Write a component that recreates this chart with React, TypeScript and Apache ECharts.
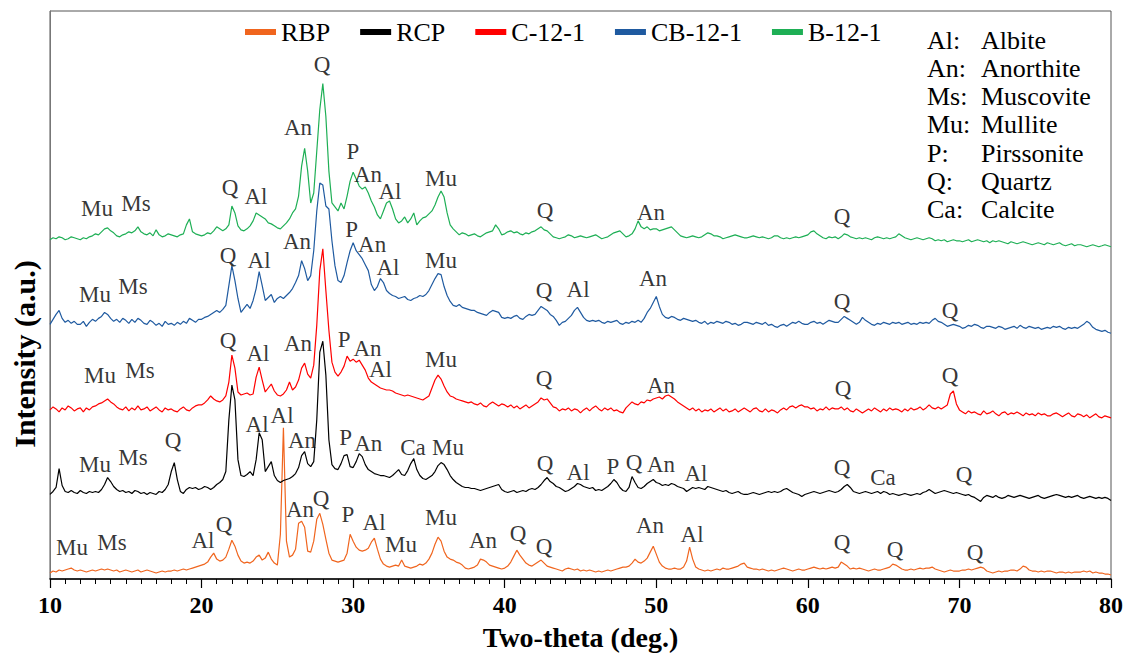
import React, { useEffect, useRef } from "react";
import * as echarts from "echarts";

const FONT = "Liberation Serif";

const seriesNames = ["RBP", "RCP", "C-12-1", "CB-12-1", "B-12-1"];
const seriesColors = ["#F0651E", "#000000", "#FF0000", "#1F5AA0", "#1EAF55"];

const xTicks = [10, 20, 30, 40, 50, 60, 70, 80];

// Two-theta sampling: 10.0 to 80.0 in 0.2 degree steps (351 points)
const thetaStart = 10;
const thetaStep = 0.2;

const rbp = [
  6, 8, 7, 9, 8, 9, 10, 11, 9, 8,
  9, 8, 7, 8, 9, 8, 9, 10, 9, 10,
  9, 8, 9, 7, 8, 9, 8, 7, 8, 9,
  7, 8, 9, 8, 7, 6, 7, 8, 7, 8,
  8, 9, 8, 9, 10, 9, 10, 11, 12, 13,
  14, 15, 17, 22, 26, 20, 18, 19, 22, 30,
  39, 33, 24, 18, 16, 17, 16, 18, 22, 24,
  19, 21, 27, 20, 16, 14, 45, 152, 38, 22,
  24, 30, 56, 58, 52, 28, 27, 38, 60, 66,
  55, 40, 26, 19, 18, 17, 18, 19, 26, 45,
  38, 32, 29, 28, 29, 31, 37, 41, 30, 20,
  15, 13, 12, 13, 14, 13, 19, 13, 12, 11,
  12, 13, 15, 14, 16, 20, 26, 35, 42, 38,
  28, 22, 20, 19, 17, 16, 14, 11, 10, 11,
  12, 14, 20, 19, 17, 14, 13, 12, 11, 10,
  11, 13, 17, 23, 29, 24, 20, 16, 14, 13,
  15, 17, 19, 16, 13, 12, 11, 10, 9, 8,
  10, 11, 10, 9, 10, 8, 9, 8, 9, 8,
  7, 8, 7, 8, 9, 8, 9, 10, 11, 12,
  12, 13, 16, 20, 17, 16, 18, 21, 27, 33,
  25, 17, 13, 11, 10, 10, 11, 10, 10, 12,
  18, 32, 20, 12, 10, 9, 8, 9, 8, 9,
  10, 9, 11, 10, 10, 11, 12, 13, 15, 16,
  12, 11, 10, 10, 9, 10, 9, 8, 9, 8,
  9, 10, 11, 10, 9, 8, 9, 10, 9, 9,
  10, 11, 12, 11, 10, 11, 10, 11, 12, 11,
  12, 17, 15, 13, 10, 11, 10, 11, 10, 9,
  8, 9, 10, 9, 9, 10, 11, 12, 15, 14,
  12, 10, 9, 9, 10, 9, 10, 11, 10, 11,
  11, 12, 10, 9, 8, 7, 8, 9, 8, 8,
  8, 9, 9, 10, 9, 10, 11, 12, 11, 8,
  7, 6, 7, 8, 7, 8, 8, 9, 9, 8,
  10, 13, 12, 9, 8, 8, 7, 8, 7, 8,
  8, 7, 6, 7, 7, 6, 7, 6, 7, 7,
  7, 8, 7, 8, 6, 7, 6, 6, 5, 5,
  4,
];

const rcp = [
  85, 88, 92, 111, 94, 88, 87, 89, 87, 86,
  89, 87, 86, 88, 87, 88, 87, 90, 95, 102,
  98, 93, 90, 88, 89, 87, 88, 86, 89, 88,
  86, 87, 85, 87, 86, 85, 88, 87, 90, 95,
  108, 117, 100, 88, 86, 90, 92, 91, 92, 90,
  91, 93, 92, 90, 92, 95, 97, 100, 108, 160,
  195, 180, 120, 104, 103, 105, 108, 104, 120, 147,
  140, 108, 113, 118, 104, 99, 97, 99, 100, 101,
  103, 106, 112, 124, 128, 116, 113, 118, 160, 228,
  239, 205, 140, 115, 111, 110, 116, 124, 125, 113,
  112, 118, 126, 123, 115, 110, 108, 106, 105, 104,
  104, 103, 102, 104, 107, 110, 105, 104, 109, 116,
  121, 110, 104, 101, 100, 102, 104, 108, 114, 117,
  115, 110, 104, 100, 97, 95, 93, 92, 92, 91,
  91, 90, 89, 90, 91, 92, 93, 94, 95, 90,
  88, 87, 88, 89, 87, 88, 89, 88, 90, 91,
  90, 92, 95, 99, 102, 98, 96, 93, 92, 90,
  88, 89, 91, 93, 96, 95, 93, 92, 91, 92,
  89, 90, 89, 91, 93, 96, 100, 97, 92, 89,
  88, 92, 103, 97, 92, 91, 93, 96, 98, 100,
  97, 96, 94, 95, 94, 96, 95, 93, 92, 91,
  88, 90, 92, 91, 92, 91, 90, 93, 92, 91,
  90, 89, 88, 89, 87, 86, 87, 88, 86, 85,
  85, 86, 87, 86, 85, 86, 87, 88, 87, 88,
  87, 88, 90, 91, 89, 87, 86, 85, 83, 85,
  86, 87, 88, 87, 86, 87, 88, 89, 88, 87,
  88, 90, 93, 95, 92, 88, 87, 86, 87, 88,
  87, 86, 87, 88, 86, 88, 87, 85, 86, 85,
  84, 85, 86, 85, 84, 85, 86, 85, 87, 88,
  90, 88, 86, 87, 88, 89, 88, 87, 86, 87,
  86, 85, 84, 85, 83, 82, 80, 78, 82, 84,
  83, 82, 84, 82, 81, 82, 84, 83, 82, 83,
  84, 83, 82, 81, 82, 83, 84, 82, 81, 82,
  83, 84, 85, 84, 83, 82, 83, 82, 83, 84,
  82, 81, 82, 83, 82, 81, 82, 81, 82, 81,
  79,
];

const c12 = [
  170, 173, 171, 168, 172, 170, 174, 172, 169, 171,
  172, 168, 172, 170, 173, 174, 176, 177, 179, 181,
  178, 176, 173, 171, 170, 173, 169, 172, 170, 174,
  170, 171, 173, 169, 171, 173, 170, 168, 172, 170,
  171, 169, 168, 171, 173, 170, 169, 172, 174, 175,
  175, 177, 180, 184, 181, 179, 178, 180, 184, 198,
  225, 212, 188, 185, 186, 187, 185, 186, 203, 213,
  200, 188, 192, 196, 189, 185, 184, 186, 190, 198,
  190, 193, 200, 212, 217, 206, 202, 215, 255, 310,
  332, 290, 250, 218, 208, 204, 208, 214, 224, 219,
  221, 218, 220, 215, 210, 202, 198, 196, 194, 192,
  191, 190, 190, 189, 187, 186, 185, 184, 185, 184,
  183, 182, 181, 180, 182, 184, 192, 200, 205, 201,
  194, 188, 184, 183, 181, 180, 179, 178, 177, 178,
  176, 175, 177, 174, 173, 176, 178, 176, 174, 176,
  175, 173, 175, 172, 174, 171, 173, 175, 172, 174,
  176, 178, 182, 180, 181, 177, 173, 172, 169, 171,
  170, 172, 169, 171, 170, 167, 170, 172, 169, 172,
  174, 171, 169, 172, 170, 172, 169, 170, 168, 167,
  172, 175, 178, 176, 175, 178, 177, 180, 179, 181,
  182, 183, 181, 184, 185, 183, 181, 178, 176, 174,
  172, 170, 172, 169, 171, 168, 170, 169, 171, 168,
  170, 172, 169, 171, 168, 169, 171, 168, 170, 172,
  170, 168, 171, 172, 169, 168, 171, 168, 170, 169,
  167, 170, 172, 170, 173, 174, 172, 174, 175, 173,
  173, 171, 172, 169, 171, 170, 173, 170, 172, 171,
  171, 173, 170, 172, 169, 168, 171, 169, 167, 169,
  171, 169, 172, 170, 168, 171, 169, 172, 170, 171,
  170, 168, 171, 169, 172, 170, 171, 173, 170, 172,
  175, 172, 171, 173, 171, 173, 175, 186, 189, 176,
  170, 168, 166, 169, 167, 168, 166, 165, 169, 166,
  167, 169, 166, 164, 167, 168, 165, 167, 166, 168,
  166, 164, 167, 165, 166, 164, 167, 165, 166, 164,
  164, 166, 167, 165, 163, 165, 167, 164, 163, 166,
  165, 163, 165, 162, 164, 166, 163, 162, 164, 163,
  162,
];

const cb12 = [
  256, 261, 266, 270, 262, 258, 260, 257, 259, 256,
  256, 259, 254, 258, 261, 259, 262, 264, 268, 266,
  262, 259, 261, 258, 262, 260, 257, 261, 258, 262,
  260, 257, 256, 260, 258, 255, 257, 254, 259, 256,
  257, 255, 258, 256, 259, 257, 262, 260, 258, 261,
  261, 263, 264, 266, 268, 270, 268, 271, 275, 295,
  315, 300, 282, 268, 272, 276, 272, 280, 292, 309,
  295, 280, 283, 286, 278, 282, 284, 282, 285, 288,
  292, 298, 305, 320, 312, 300, 305, 330, 370, 398,
  396, 375, 372, 340, 315, 300, 298, 305, 318, 330,
  338, 330, 326, 322, 316, 310, 296, 290, 294, 302,
  298, 290, 287, 285, 284, 282, 283, 284, 281, 280,
  282, 283, 285, 284, 286, 290, 296, 302, 307, 306,
  294, 285, 279, 275, 274, 276, 273, 272, 271, 270,
  270, 268, 267, 266, 265, 268, 270, 269, 268, 263,
  262, 263, 262, 264, 265, 262, 261, 264, 266, 265,
  266, 270, 274, 272, 270, 266, 264, 260, 255, 258,
  259, 262, 265, 270, 273, 268, 263, 260, 259, 260,
  259, 260, 258, 257, 259, 258, 259, 260, 257, 256,
  258, 257, 259, 258, 260, 258, 262, 268, 272, 278,
  284, 274, 266, 263, 262, 264, 263, 261, 260, 262,
  261, 260, 259, 260, 258, 257, 259, 256, 258, 257,
  259, 258, 257, 259, 258, 256, 257, 255, 256, 258,
  258, 257, 256, 258, 257, 256, 258, 255, 256, 254,
  253, 255, 256, 254, 256, 258, 257, 259, 257, 256,
  256, 258, 259, 257, 258, 256, 258, 260, 259, 258,
  258, 261, 264, 262, 260, 258, 256, 258, 263, 260,
  258, 256, 255, 257, 256, 258, 257, 256, 258, 257,
  258, 256, 257, 258, 256, 257, 256, 258, 257, 258,
  257, 260, 262, 259, 258, 256, 254, 255, 256, 255,
  254, 252, 253, 255, 254, 256, 255, 253, 252, 254,
  254, 253, 252, 254, 253, 251, 252, 253, 254, 252,
  255, 253, 252, 254, 253, 252, 253, 251, 252, 253,
  252, 254, 253, 254, 252, 251, 253, 252, 253, 252,
  254, 256, 259, 257, 253, 251, 250, 249, 250, 248,
  247,
];

const b12 = [
  341, 343, 342, 344, 343, 341, 342, 344, 343, 342,
  341, 343, 342, 344, 345, 347, 346, 349, 352, 353,
  350, 348, 345, 344, 346, 347, 349, 348, 350, 354,
  349, 347, 346, 348, 345, 351, 346, 344, 345, 347,
  346, 345, 344, 346, 347, 356, 362, 349, 347, 346,
  345, 346, 348, 347, 350, 354, 352, 350, 352, 356,
  375, 368, 355, 351, 350, 352, 355, 360, 368, 366,
  364, 362, 358, 357, 355, 353, 352, 355, 358, 362,
  368, 372, 385, 415, 433, 410, 378, 388, 430, 472,
  498, 465, 410, 378, 374, 370, 378, 372, 385, 400,
  409, 402, 395, 392, 394, 388, 380, 374, 366, 362,
  370, 378, 380, 372, 362, 358, 360, 364, 358, 362,
  368, 356, 360, 363, 364, 367, 370, 376, 384, 390,
  384, 368, 356, 352, 349, 346, 348, 347, 345, 346,
  347, 345, 344, 346, 348, 349, 350, 356, 352, 346,
  347, 349, 350, 348, 349, 347, 346, 348, 347, 349,
  350, 352, 354, 351, 350, 347, 344, 343, 342, 343,
  344, 346, 345, 343, 344, 345, 344, 343, 344, 345,
  346, 344, 342, 343, 344, 346, 348, 349, 350, 347,
  344, 345, 347, 352, 360, 354, 352, 354, 351, 352,
  352, 350, 351, 352, 353, 354, 351, 348, 345, 344,
  343, 344, 345, 344, 343, 344, 346, 348, 347, 345,
  345, 344, 342, 343, 344, 345, 346, 345, 344, 343,
  343, 344, 345, 344, 343, 344, 343, 342, 343, 345,
  345, 343, 342, 343, 342, 343, 344, 343, 344, 345,
  346, 349, 350, 347, 345, 343, 342, 344, 343, 344,
  342, 344, 347, 346, 344, 343, 342, 343, 342, 343,
  342, 341, 343, 344, 343, 342, 343, 342, 343, 344,
  347, 345, 343, 342, 341, 342, 343, 342, 341, 342,
  343, 342, 340, 341, 340, 341, 339, 340, 341, 340,
  340, 339, 340, 341, 339, 340, 341, 340, 339, 340,
  338, 340, 339, 340, 339, 338, 337, 339, 338, 337,
  338, 339, 338, 337, 336, 337, 338, 337, 336, 338,
  337, 336, 337, 338, 336, 335, 336, 337, 335, 336,
  336, 335, 334, 335, 336, 335, 334, 335, 336, 335,
  334,
];

// Peak labels: [two-theta, intensity, phase]
const rbpLabels: [number, number, string][] = [
  [11.45, 32, "Mu"], [14.09, 37, "Ms"], [20.09, 39, "Al"], [21.48, 55, "Q"], [25.31, 164, "Al"], [26.49, 70, "An"], [27.88, 81, "Q"], [29.66, 65, "P"], [31.38, 57, "Al"], [33.16, 35, "Mu"], [35.8, 62, "Mu"], [38.57, 39, "An"], [40.88, 46, "Q"], [42.59, 33, "Q"], [49.59, 54, "An"], [52.36, 45, "Al"], [62.25, 37, "Q"], [65.75, 30, "Q"], [71.03, 27, "Q"],
];
const rcpLabels: [number, number, string][] = [
  [12.97, 115, "Mu"], [15.48, 122, "Ms"], [18.12, 139, "Q"], [23.66, 155, "Al"], [26.63, 139, "An"], [29.5, 142, "P"], [31.0, 136, "An"], [33.95, 132, "Ca"], [36.26, 132, "Mu"], [42.66, 116, "Q"], [44.84, 107, "Al"], [47.14, 113, "P"], [48.53, 117, "Q"], [50.31, 115, "An"], [52.62, 106, "Al"], [62.25, 112, "Q"], [64.96, 102, "Ca"], [70.3, 105, "Q"],
];
const c12Labels: [number, number, string][] = [
  [13.3, 205, "Mu"], [15.94, 210, "Ms"], [21.74, 240, "Q"], [23.72, 227, "Al"], [26.36, 237, "An"], [29.4, 241, "P"], [30.95, 232, "An"], [31.8, 211, "Al"], [35.8, 221, "Mu"], [42.59, 202, "Q"], [50.31, 195, "An"], [62.32, 192, "Q"], [69.38, 205, "Q"],
];
const cb12Labels: [number, number, string][] = [
  [12.97, 286, "Mu"], [15.48, 294, "Ms"], [21.74, 325, "Q"], [23.79, 320, "Al"], [26.3, 339, "An"], [29.9, 351, "P"], [31.25, 336, "An"], [32.3, 313, "Al"], [35.8, 320, "Mu"], [42.59, 290, "Q"], [44.84, 291, "Al"], [49.78, 302, "An"], [62.25, 279, "Q"], [69.38, 270, "Q"],
];
const b12Labels: [number, number, string][] = [
  [13.1, 372, "Mu"], [15.67, 377, "Ms"], [21.88, 394, "Q"], [23.59, 385, "Al"], [26.36, 454, "An"], [27.95, 517, "Q"], [29.99, 430, "P"], [30.98, 407, "An"], [32.43, 390, "Al"], [35.8, 403, "Mu"], [42.66, 370, "Q"], [49.65, 368, "An"], [62.25, 364, "Q"],
];

const phaseAbbr = ["Al:", "An:", "Ms:", "Mu:", "P:", "Q:", "Ca:"];
const phaseNames = ["Albite", "Anorthite", "Muscovite", "Mullite", "Pirssonite", "Quartz", "Calcite"];

export default function App() {
  const ref = useRef<HTMLDivElement>(null);
  useEffect(() => {
    if (!ref.current) return;
    const chart = echarts.init(ref.current, undefined, { renderer: "svg" });
    const datasets = [rbp, rcp, c12, cb12, b12];
    const allLabels = [...rbpLabels, ...rcpLabels, ...c12Labels, ...cb12Labels, ...b12Labels];

    const lineSeries = datasets.map((d, i) => ({
      name: seriesNames[i],
      type: "line",
      data: d.map((v, k) => [+(thetaStart + k * thetaStep).toFixed(1), v]),
      showSymbol: false,
      symbol: "none",
      lineStyle: { color: seriesColors[i], width: 1.2 },
      itemStyle: { color: seriesColors[i] },
      silent: true,
      z: 2 + i,
    }));

    const extraGraphic: any[] = [];
    phaseAbbr.forEach((a, i) => {
      extraGraphic.push({
        type: "text",
        x: 927,
        y: 40 + i * 28.3,
        style: { text: a, font: "26px Liberation Serif", fill: "#000", textVerticalAlign: "middle" },
      });
      extraGraphic.push({
        type: "text",
        x: 981,
        y: 40 + i * 28.3,
        style: { text: phaseNames[i], font: "26px Liberation Serif", fill: "#000", textVerticalAlign: "middle" },
      });
    });
    extraGraphic.push({
      type: "text",
      x: 24,
      y: 354,
      rotation: Math.PI / 2,
      style: {
        text: "Intensity (a.u.)",
        font: "bold 30px Liberation Serif",
        fill: "#000",
        textAlign: "center",
        textVerticalAlign: "middle",
      },
    });

    chart.setOption({
      animation: false,
      textStyle: { fontFamily: FONT },
      grid: { left: 50, right: 16, top: 11, bottom: 74, show: true, borderColor: "#555", borderWidth: 1 },
      legend: {
        data: seriesNames,
        left: 245,
        top: 19,
        padding: 0,
        icon: "rect",
        itemWidth: 31,
        itemHeight: 6,
        itemGap: 30,
        textStyle: { fontFamily: FONT, fontSize: 26, color: "#000" },
      },
      xAxis: {
        type: "value",
        min: xTicks[0],
        max: xTicks[xTicks.length - 1],
        interval: 10,
        axisLine: { lineStyle: { color: "#000", width: 1.5 } },
        axisTick: { length: 9, lineStyle: { color: "#000", width: 1.2 } },
        minorTick: { show: true, splitNumber: 10, length: 5, lineStyle: { color: "#000", width: 1 } },
        splitLine: { show: false },
        minorSplitLine: { show: false },
        axisLabel: { fontFamily: FONT, fontWeight: "bold", fontSize: 24, color: "#000", margin: 14 },
        name: "Two-theta (deg.)",
        nameLocation: "middle",
        nameGap: 44,
        nameTextStyle: { fontFamily: FONT, fontWeight: "bold", fontSize: 28, color: "#000" },
      },
      yAxis: {
        type: "value",
        min: 0,
        max: 571,
        axisLine: { show: true, lineStyle: { color: "#777" } },
        axisTick: { show: false },
        axisLabel: { show: false },
        splitLine: { show: false },
      },
      graphic: extraGraphic,
      series: [
        ...lineSeries,
        {
          name: "peaks",
          type: "scatter",
          data: allLabels.map((l) => ({ value: [l[0], l[1]], name: l[2] })),
          symbolSize: 2,
          itemStyle: { color: "rgba(0,0,0,0)" },
          silent: true,
          z: 10,
          labelLayout: { hideOverlap: false },
          label: {
            show: true,
            position: "inside",
            formatter: "{b}",
            fontFamily: FONT,
            fontSize: 23,
            color: "#000",
          },
        },
      ],
    });
    return () => chart.dispose();
  }, []);
  return <div ref={ref} style={{ position: "absolute", left: 0, top: 0, width: 1127, height: 656 }} />;
}
